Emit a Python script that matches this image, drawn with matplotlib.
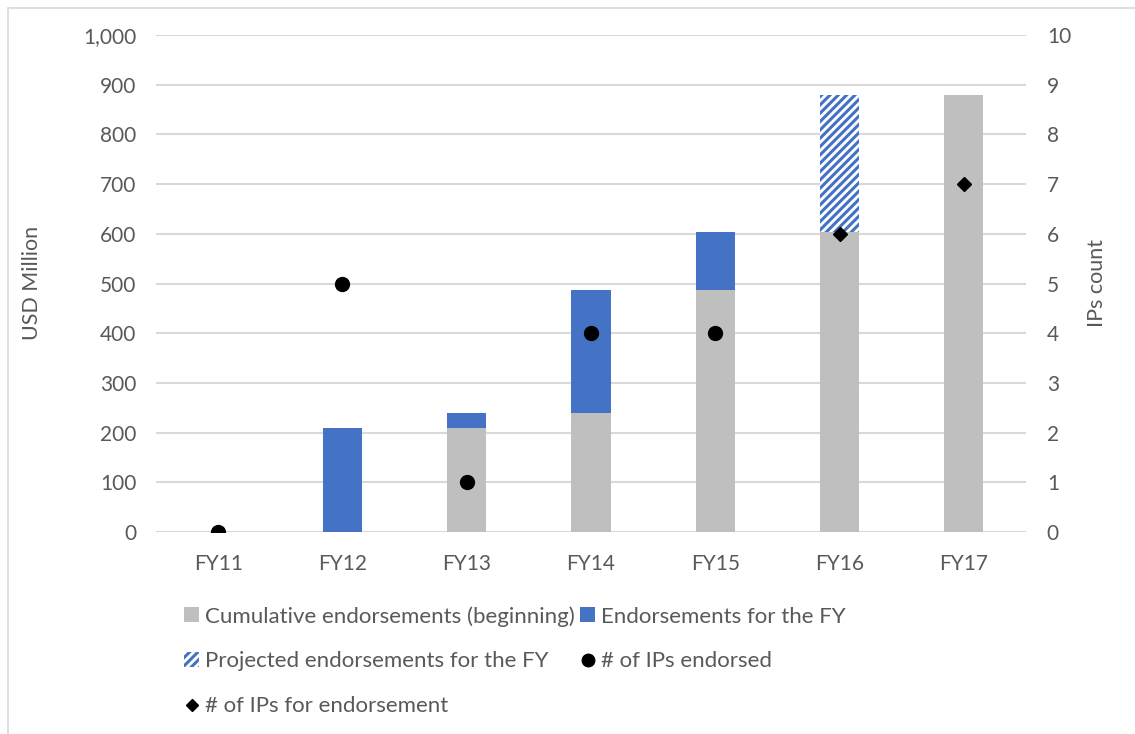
import matplotlib
matplotlib.use("Agg")
import matplotlib.pyplot as plt
from matplotlib.patches import Patch, Rectangle
from matplotlib.lines import Line2D
import numpy as np

# Fiscal years and endorsement data (USD million)
years = ["FY11", "FY12", "FY13", "FY14", "FY15", "FY16", "FY17"]
cumulative_beginning = [0, 0, 210, 240, 487, 603, 880]
endorsed_in_year = [0, 210, 30, 247, 116, 0, 0]
projected_in_year = [0, 0, 0, 0, 0, 277, 0]

# IP counts (secondary axis)
ips_endorsed = [0, 5, 1, 4, 4, None, None]
ips_for_endorsement = [None, None, None, None, None, 6, 7]

GRAY = "#BFBFBF"
BLUE = "#4472C4"
TEXT = "#595959"
GRID = "#D9D9D9"

plt.rcParams["font.family"] = ["Lato", "DejaVu Sans"]
plt.rcParams["hatch.linewidth"] = 2.2
plt.rcParams["hatch.color"] = BLUE

W, H = 1135, 734
fig = plt.figure(figsize=(W / 100, H / 100), dpi=100)
ax = fig.add_axes([156 / W, 1 - 532 / H, (1026 - 156) / W, (532 - 35) / H])

x = np.arange(len(years))
bw = 0.315
ax.bar(x, cumulative_beginning, bw, color=GRAY, zorder=2)
ax.bar(x, endorsed_in_year, bw, bottom=cumulative_beginning, color=BLUE, zorder=2)
proj_bottom = [c + e for c, e in zip(cumulative_beginning, endorsed_in_year)]
ax.bar(x, projected_in_year, bw, bottom=proj_bottom, facecolor="white",
       edgecolor=BLUE, hatch="////", linewidth=0, zorder=2)

ax.set_xlim(-0.5, len(years) - 0.5)
ax.set_ylim(0, 1000)
ax.set_yticks(np.arange(0, 1001, 100))
ax.yaxis.set_major_formatter(matplotlib.ticker.FuncFormatter(lambda v, p: f"{int(v):,}"))
ax.set_xticks(x)
ax.set_xticklabels(years)
ax.grid(axis="y", color=GRID, linewidth=1.5, zorder=0)
ax.set_axisbelow(True)
for s in ax.spines.values():
    s.set_visible(False)
ax.tick_params(axis="both", length=0, labelsize=15, colors=TEXT)
ax.tick_params(axis="x", pad=16)
ax.tick_params(axis="y", pad=14)

ax2 = ax.twinx()
ax2.set_ylim(0, 10)
ax2.set_yticks(np.arange(0, 11, 1))
for s in ax2.spines.values():
    s.set_visible(False)
ax2.tick_params(axis="y", length=0, labelsize=15, colors=TEXT, pad=15)

# Axis titles
fig.text(32 / W, 1 - 283 / H, "USD Million", rotation=90, ha="center", va="center",
         fontsize=15.5, color=TEXT)
fig.text(1097 / W, 1 - 283 / H, "IPs count", rotation=90, ha="center", va="center",
         fontsize=15.5, color=TEXT)

ex = [i for i, v in enumerate(ips_endorsed) if v is not None]
ax2.plot(ex, [ips_endorsed[i] for i in ex], linestyle="none", marker="o",
         markersize=10, color="black", zorder=5)
fx = [i for i, v in enumerate(ips_for_endorsement) if v is not None]
ax2.plot(fx, [ips_for_endorsement[i] for i in fx], linestyle="none", marker="D",
         markersize=7.5, color="black", zorder=5)

# Legend (two columns, filled column by column)
h_cum = Patch(facecolor=GRAY, edgecolor="none")
h_end = Patch(facecolor=BLUE, edgecolor="none")
h_proj = Patch(facecolor="white", edgecolor=BLUE, hatch="////", linewidth=0)
h_ipe = Line2D([], [], linestyle="none", marker="o", markersize=9, color="black")
h_ipf = Line2D([], [], linestyle="none", marker="D", markersize=6.5, color="black")

handles = [h_cum, h_proj, h_ipf, h_end, h_ipe]
labels = ["Cumulative endorsements (beginning)", "Projected endorsements for the FY",
          "# of IPs for endorsement", "Endorsements for the FY", "# of IPs endorsed"]
fig.legend(handles, labels, ncol=2, loc="upper left", frameon=False, fontsize=16,
           labelcolor=TEXT, handlelength=0.68, handleheight=0.68, handletextpad=0.25,
           columnspacing=0.25, labelspacing=1.12, borderpad=0, borderaxespad=0,
           bbox_to_anchor=(184 / W, 1 - 606 / H))

# Chart area border
fig.patches.append(Rectangle((8 / W, -0.1), 1.2, 1 - 8 / H + 0.1, transform=fig.transFigure,
                             fill=False, edgecolor="#D9D9D9", linewidth=1.2))

fig.savefig("out.png", dpi=100, facecolor="white")
